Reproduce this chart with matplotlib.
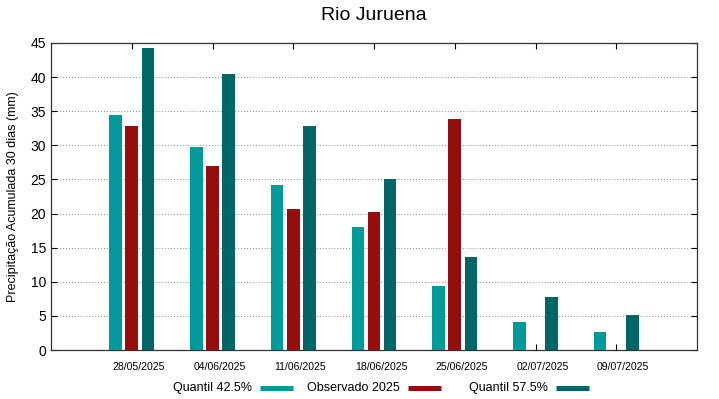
import numpy as np
import matplotlib
matplotlib.use('Agg')
from matplotlib import pyplot as plt
from matplotlib.lines import Line2D
from matplotlib.transforms import ScaledTranslation

plt.rcParams['font.family'] = ['Liberation Sans', 'DejaVu Sans']

datas = ['28/05/2025', '04/06/2025', '11/06/2025', '18/06/2025',
         '25/06/2025', '02/07/2025', '09/07/2025']
q425 = [34.5, 29.7, 24.2, 18.1, 9.4, 4.15, 2.6]
obs2025 = [32.9, 27.0, 20.7, 20.3, 33.9, np.nan, np.nan]
q575 = [44.2, 40.4, 32.8, 25.0, 13.6, 7.7, 5.1]
nomes = ['Quantil 42.5%', 'Observado 2025', 'Quantil 57.5%']

c_q425 = '#009a9a'
c_obs = '#960d0d'
c_q575 = '#006666'

W, H = 719, 399
fig = plt.figure(figsize=(W / 100, H / 100), dpi=100)
ax = fig.add_axes([51 / W, 49 / H, 646 / W, 307 / H])

x = np.arange(len(datas))
w = 0.155
ax.bar(x - 0.2, q425, w, color=c_q425, zorder=3)
ax.bar(x, obs2025, w, color=c_obs, zorder=3)
ax.bar(x + 0.2, q575, w, color=c_q575, zorder=3)

ax.set_xlim(-1, 7)
ax.set_ylim(0, 45)
ax.set_xticks(x)
ax.set_xticklabels(datas, fontsize=7.6)
ax.set_yticks(np.arange(0, 46, 5))
ax.tick_params(axis='y', labelsize=10, direction='in', right=True, length=4)
ax.tick_params(axis='x', direction='in', top=True, length=4, pad=9)
# gnuplot desloca os rotulos um pouco para a direita
off = ScaledTranslation(7 / 100, 0, fig.dpi_scale_trans)
for lab in ax.get_xticklabels():
    lab.set_transform(lab.get_transform() + off)
ax.yaxis.grid(True, ls=(0, (1, 2)), color='#888888', lw=0.7, zorder=1)
for s in ax.spines.values():
    s.set_linewidth(0.9)
    s.set_color('#333333')

ax.set_ylabel('Precipitação Acumulada 30 dias (mm)', fontsize=9, labelpad=8)
fig.text(374 / W, 1 - 16 / H, 'Rio Juruena', fontsize=14, ha='center', va='center')

# legenda estilo gnuplot: texto alinhado a direita, amostra depois
ly = 1 - 388 / H
for i, (nome, c) in enumerate(zip(nomes, (c_q425, c_obs, c_q575))):
    xe = 252 + 148 * i
    fig.text(xe / W, ly, nome, fontsize=9, ha='right', va='center')
    fig.add_artist(Line2D([(xe + 8) / W, (xe + 41) / W], [ly, ly],
                          color=c, lw=3.6, solid_capstyle='butt'))

plt.savefig('out.png', dpi=100)
